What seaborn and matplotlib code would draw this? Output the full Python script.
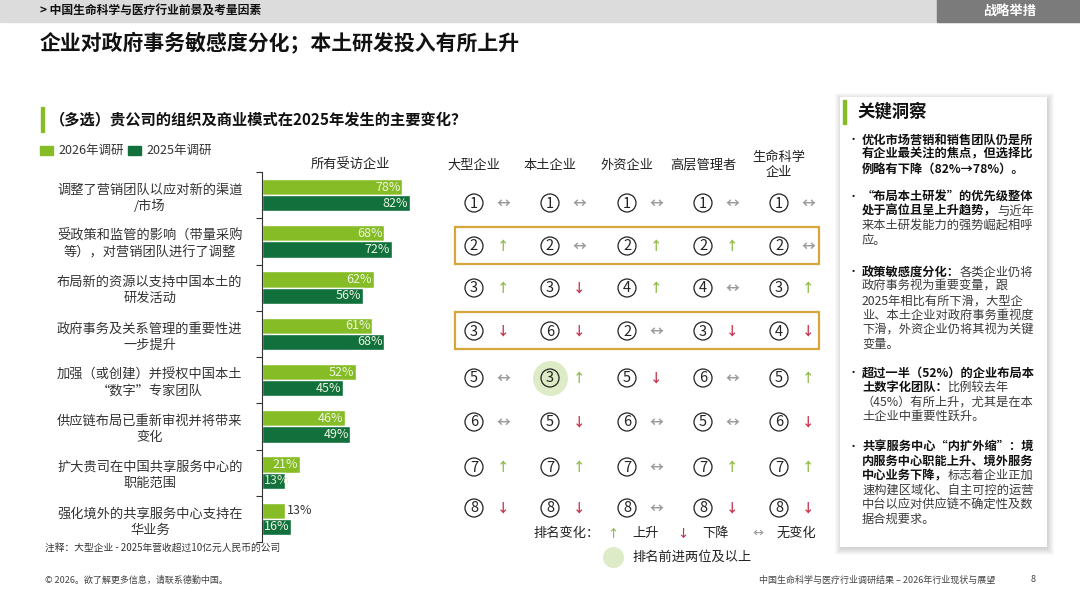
import numpy as np
import pandas as pd
import matplotlib
matplotlib.use("Agg")
import matplotlib.pyplot as plt
from matplotlib.patches import Rectangle
import seaborn as sns

# ---- data ----
items = [
    "调整了营销团队以应对新的渠道\n/市场",
    "受政策和监管的影响（带量采购\n等），对营销团队进行了调整",
    "布局新的资源以支持中国本土的\n研发活动",
    "政府事务及关系管理的重要性进\n一步提升",
    "加强（或创建）并授权中国本土\n“数字”专家团队",
    "供应链布局已重新审视并将带来\n变化",
    "扩大贵司在中国共享服务中心的\n职能范围",
    "强化境外的共享服务中心支持在\n华业务",
]
share_2026 = [78, 68, 62, 61, 52, 46, 21, 13]
share_2025 = [82, 72, 56, 68, 45, 49, 13, 16]
survey_names = ["2026年调研", "2025年调研"]

segments = ["大型企业", "本土企业", "外资企业", "高层管理者", "生命科学\n企业"]
rank_large = [1, 2, 3, 3, 5, 6, 7, 8]
rank_local = [1, 2, 3, 6, 3, 5, 7, 8]
rank_foreign = [1, 2, 4, 2, 5, 6, 7, 8]
rank_exec = [1, 2, 4, 3, 6, 5, 7, 8]
rank_ls = [1, 2, 3, 4, 5, 6, 7, 8]
chg_large = ["same", "up", "up", "down", "same", "same", "up", "down"]
chg_local = ["same", "same", "down", "down", "up", "down", "up", "down"]
chg_foreign = ["same", "up", "up", "same", "down", "same", "same", "same"]
chg_exec = ["same", "up", "same", "down", "same", "same", "up", "down"]
chg_ls = ["same", "same", "up", "down", "up", "down", "up", "down"]
big_jumps = [(1, 4)]          # (segment, row) moved up two or more places
boxed_rows = [1, 3]

insights = [
    [[("优化市场营销和销售团队仍是所", True)],
     [("有企业最关注的焦点，但选择比", True)],
     [("例略有下降（82%→78%）。", True)]],
    [[("“布局本土研发”的优先级整体", True)],
     [("处于高位且呈上升趋势，", True), ("与近年", False)],
     [("来本土研发能力的强势崛起相呼", False)],
     [("应。", False)]],
    [[("政策敏感度分化：", True), ("各类企业仍将", False)],
     [("政府事务视为重要变量，跟", False)],
     [("2025年相比有所下滑，大型企", False)],
     [("业、本土企业对政府事务重视度", False)],
     [("下滑，外资企业仍将其视为关键", False)],
     [("变量。", False)]],
    [[("超过一半（52%）的企业布局本", True)],
     [("土数字化团队：", True), ("比例较去年", False)],
     [("（45%）有所上升，尤其是在本", False)],
     [("土企业中重要性跃升。", False)]],
    [[("共享服务中心“内扩外缩”：境", True)],
     [("内服务中心职能上升、境外服务", True)],
     [("中心业务下降，", True), ("标志着企业正加", False)],
     [("速构建区域化、自主可控的运营", False)],
     [("中台以应对供应链不确定性及数", False)],
     [("据合规要求。", False)]],
]

LIGHT = "#86BC25"
DARK = "#12703C"
GOLD = "#D6A63A"
PALE = "#DDEBC6"
ARROW = {"up": ("↑", "#8DBB45"), "down": ("↓", "#C8304A"), "same": ("↔", "#9A9A9A")}

sns.set_style("white")
plt.rcParams["font.family"] = ["Noto Sans CJK SC", "DejaVu Sans"]

W, H = 1080, 608
fig = plt.figure(figsize=(W / 100, H / 100), dpi=100)
ax = fig.add_axes([0, 0, 1, 1], zorder=0)
ax.set_xlim(0, W)
ax.set_ylim(H, 0)
ax.axis("off")

# ---- header ----
ax.add_patch(Rectangle((0, 0), W, 22, color="#DCDCDC"))
ax.add_patch(Rectangle((937, 0), W - 937, 22, color="#7B7B7B"))
ax.text(40, 11.5, "> 中国生命科学与医疗行业前景及考量因素", fontsize=8.5,
        weight="bold", va="center", color="#111111")
ax.text(1010, 11.5, "战略举措", fontsize=9.5, weight="bold", style="italic",
        color="white", ha="center", va="center")
ax.text(40, 43, "企业对政府事务敏感度分化；本土研发投入有所上升", fontsize=15,
        weight="bold", va="center", color="#111111")

ax.add_patch(Rectangle((41, 107), 3, 25, color=LIGHT))
ax.text(50, 119, "（多选）贵公司的组织及商业模式在2025年发生的主要变化？",
        fontsize=11, weight="bold", va="center", color="#111111")

# legend
ax.add_patch(Rectangle((40, 146), 13, 9, color=LIGHT))
ax.text(58, 150.5, survey_names[0], fontsize=9, va="center", color="#333333")
ax.add_patch(Rectangle((128, 146), 13, 9, color=DARK))
ax.text(146, 150.5, survey_names[1], fontsize=9, va="center", color="#333333")
ax.text(350, 165, "所有受访企业", fontsize=9.5, ha="center", va="center", color="#222222")

# ---- bar chart ----
df = pd.DataFrame({
    "item": items * 2,
    "share": share_2026 + share_2025,
    "survey": [survey_names[0]] * len(items) + [survey_names[1]] * len(items),
})
axb = fig.add_axes([262 / W, 1 - 542 / H, 180 / W, 370 / H], zorder=1)
axb.patch.set_alpha(0)
sns.barplot(data=df, y="item", x="share", hue="survey", palette=[LIGHT, DARK],
            orient="h", width=0.7, saturation=1, ax=axb, legend=False)
axb.set_xlim(0, 100)
axb.set_ylim(len(items) - 0.5, -0.5)
axb.set_xticks([])
axb.set_xlabel("")
axb.set_ylabel("")
for side in ["top", "right", "bottom"]:
    axb.spines[side].set_visible(False)
axb.spines["left"].set_color("#333333")
axb.spines["left"].set_linewidth(0.8)
axb.set_yticks(np.arange(-0.5, len(items), 1), minor=True)
axb.tick_params(axis="y", which="major", length=0, pad=14, labelsize=9.5,
                labelcolor="#333333")
axb.tick_params(axis="y", which="minor", length=4, width=0.8, color="#333333",
                direction="out", left=True)
for lbl in axb.get_yticklabels():
    lbl.set_multialignment("center")
    lbl.set_linespacing(1.3)

for cont, vals, name in zip(axb.containers, [share_2026, share_2025], survey_names):
    for bar, v in zip(cont, vals):
        yc = bar.get_y() + bar.get_height() / 2
        if v >= 15:
            axb.text(v - 0.8, yc, f"{v}%", ha="right", va="center", fontsize=9,
                     color="#EEF6E2")
        elif name == survey_names[0]:
            axb.text(v + 0.6, yc, f"{v}%", ha="left", va="center", fontsize=9,
                     color="#333333")
        else:
            axb.text(0.8, yc, f"{v}%", ha="left", va="center", fontsize=9,
                     color="#DDEFC8", clip_on=False)

# ---- rank table ----
col_x = [474, 550, 627, 703, 779]
row_y = [203, 246, 288, 331, 378, 422, 467, 508]
all_ranks = [rank_large, rank_local, rank_foreign, rank_exec, rank_ls]
all_chg = [chg_large, chg_local, chg_foreign, chg_exec, chg_ls]

for j, seg in enumerate(segments):
    ax.text(col_x[j], 165, seg, fontsize=9.5, ha="center", va="center",
            color="#222222", linespacing=1.2)

for r in boxed_rows:
    ax.add_patch(Rectangle((455, row_y[r] - 19), 364, 37, fill=False,
                           ec=GOLD, lw=1.6, zorder=2))

for j, i in big_jumps:
    ax.scatter([col_x[j]], [row_y[i]], s=(35 * 0.72) ** 2, color=PALE,
               lw=0, zorder=2)

for j in range(len(segments)):
    xs = [col_x[j]] * len(row_y)
    ax.scatter(xs, row_y, s=(18 * 0.72) ** 2, facecolor="none",
               edgecolor="#222222", lw=0.9, zorder=3)
    for i, (rk, ch) in enumerate(zip(all_ranks[j], all_chg[j])):
        ax.text(col_x[j], row_y[i] + 0.5, str(rk), fontsize=10.5, ha="center",
                va="center", color="#222222", zorder=4)
        glyph, col = ARROW[ch]
        ax.text(col_x[j] + 29, row_y[i] + 0.5, glyph,
                fontsize=10 if ch == "same" else 9, weight="bold",
                ha="center", va="center", color=col, zorder=4)

# rank legend
ax.text(533, 533, "排名变化：", fontsize=9.5, va="center", color="#222222")
for gx, tx, key, lab in [(613, 632, "up", "上升"), (683, 702, "down", "下降"),
                         (758, 777, "same", "无变化")]:
    glyph, col = ARROW[key]
    ax.text(gx, 533, glyph, fontsize=8, weight="bold", ha="center", va="center",
            color=col)
    ax.text(tx, 533, lab, fontsize=9.5, va="center", color="#222222")
ax.scatter([613], [557], s=(21 * 0.72) ** 2, color=PALE, lw=0)
ax.text(632, 557, "排名前进两位及以上", fontsize=9.5, va="center", color="#222222")

# ---- key insight panel ----
for k in range(7):
    ax.add_patch(Rectangle((840 - k + 1, 97 - k + 2), 207 + 2 * k, 450 + 2 * k,
                           color="black", alpha=0.022, lw=0))
ax.add_patch(Rectangle((840, 97), 207, 450, color="white", lw=0))
ax.add_patch(Rectangle((843, 100), 3, 24, color=LIGHT))
ax.text(857, 112, "关键洞察", fontsize=12.5, weight="bold", va="center", color="#111111")

renderer = fig.canvas.get_renderer()
bullet_y = [140, 197, 272, 373, 447]
line_h = 14.4
for by, lines in zip(bullet_y, insights):
    ax.text(848, by, "•", fontsize=8, va="center", color="#111111")
    for li, parts in enumerate(lines):
        x = 862
        y = by + li * line_h
        for txt, bold in parts:
            t = ax.text(x, y, txt, fontsize=8.8, va="center",
                        weight="bold" if bold else "normal",
                        color="#111111" if bold else "#3A3A3A")
            x += t.get_window_extent(renderer).width

# ---- footer ----
ax.text(45, 548, "注释：大型企业 - 2025年营收超过10亿元人民币的公司", fontsize=7,
        va="center", color="#333333")
ax.text(45, 580, "© 2026。欲了解更多信息，请联系德勤中国。", fontsize=6.5,
        va="center", color="#444444")
ax.text(995, 580, "中国生命科学与医疗行业调研结果 – 2026年行业现状与展望", fontsize=6.5,
        ha="right", va="center", color="#444444")
ax.text(1033, 580, "8", fontsize=6.5, ha="center", va="center", color="#444444")

fig.savefig("out.png", dpi=100)
